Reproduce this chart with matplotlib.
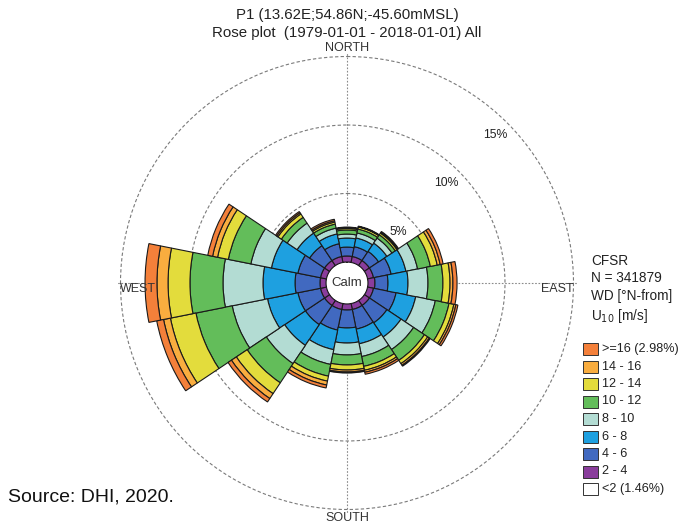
import numpy as np
import matplotlib
matplotlib.use("Agg")
import matplotlib.pyplot as plt
from matplotlib.patches import Rectangle

plt.rcParams['font.family'] = ['Liberation Sans', 'DejaVu Sans']

# wind direction sectors (deg, N-from), 16 sectors
directions = ["N", "NNE", "NE", "ENE", "E", "ESE", "SE", "SSE",
              "S", "SSW", "SW", "WSW", "W", "WNW", "NW", "NNW"]

# frequency (%) per speed class and sector
f_2_4 = [0.44, 0.44, 0.44, 0.44, 0.51, 0.44, 0.44, 0.44,
         0.44, 0.44, 0.44, 0.44, 0.44, 0.44, 0.44, 0.44]
f_4_6 = [0.65, 0.73, 0.80, 1.31, 0.95, 1.68, 1.53, 1.46,
         1.31, 1.53, 1.68, 1.68, 1.82, 1.68, 1.31, 0.95]
f_6_8 = [0.66, 0.65, 0.73, 1.10, 1.46, 1.46, 1.24, 1.09,
         1.10, 1.46, 1.82, 2.26, 2.34, 1.97, 1.10, 0.73]
f_8_10 = [0.29, 0.37, 0.44, 0.87, 1.46, 1.46, 1.10, 0.95,
          0.87, 1.10, 1.61, 2.63, 2.92, 1.53, 0.87, 0.43]
f_10_12 = [0.30, 0.29, 0.29, 0.95, 1.09, 1.02, 0.95, 0.73,
           0.73, 0.87, 1.68, 2.70, 2.41, 1.68, 0.51, 0.30]
f_12_14 = [0.11, 0.15, 0.15, 0.51, 0.52, 0.36, 0.29, 0.29,
           0.37, 0.37, 0.95, 1.90, 1.60, 0.80, 0.30, 0.15]
f_14_16 = [0.05, 0.03, 0.07, 0.22, 0.21, 0.15, 0.14, 0.15,
           0.14, 0.29, 0.43, 0.51, 0.81, 0.37, 0.11, 0.10]
f_16 = [0.05, 0.04, 0.07, 0.22, 0.30, 0.15, 0.08, 0.15,
        0.08, 0.22, 0.30, 0.51, 0.87, 0.36, 0.10, 0.11]

speed_bins = [f_2_4, f_4_6, f_6_8, f_8_10, f_10_12, f_12_14, f_14_16, f_16]
bin_colors = ["#8a3d9c", "#4169c0", "#1ea0e0", "#b3dcd3",
              "#63bd5a", "#e3dc3c", "#f9ad3f", "#f4803a"]

legend_labels = [">=16 (2.98%)", "14 - 16", "12 - 14", "10 - 12", "8 - 10",
                 "6 - 8", "4 - 6", "2 - 4", "<2 (1.46%)"]
legend_colors = bin_colors[::-1] + ["white"]

ring_levels = [5, 10, 15]
calm_offset = 1.533  # calm circle radius in % units

W, H = 692, 525
fig = plt.figure(figsize=(W / 100, H / 100), dpi=100)

cx, cy = 347, 242  # centre in pixels from lower left
rmax = 15.3
R = 230.6
ax = fig.add_axes([(cx - R) / W, (cy - R) / H, 2 * R / W, 2 * R / H],
                  projection='polar')
ax.set_theta_zero_location('N')
ax.set_theta_direction(-1)
ax.set_rorigin(-calm_offset)
ax.set_ylim(0, rmax)
ax.spines['polar'].set_visible(False)
ax.set_axisbelow(True)

theta = np.deg2rad(np.arange(len(directions)) * 22.5)
width = 2 * np.pi / len(directions)

bottom = np.zeros(len(directions))
for vals, col in zip(speed_bins, bin_colors):
    vals = np.array(vals)
    ax.bar(theta, vals, width=width, bottom=bottom, color=col,
           edgecolor="#1a1a1a", linewidth=0.8, zorder=3)
    bottom += vals

ax.set_rticks(ring_levels)
ax.set_yticklabels([])
ax.set_xticks(np.deg2rad([0, 90, 180, 270]))
ax.set_xticklabels([])
ax.yaxis.grid(True, color="#7a7a7a", linestyle=(0, (3, 2)), linewidth=0.8)
ax.xaxis.grid(True, color="#8a8a8a", linestyle=(0, (1.5, 1.5)), linewidth=0.8)

# ring labels along NE diagonal
for lev in ring_levels:
    ax.text(np.deg2rad(45), lev - 1.25, f"{lev}%", ha='center', va='center',
            fontsize=8.8, color="#222222", zorder=4)

lab_kw = dict(fontsize=9, color="#333333", clip_on=False, zorder=5)
ax.text(0, 15.15, "NORTH", ha='center', va='bottom', **lab_kw)
ax.text(np.pi, 15.15, "SOUTH", ha='center', va='top', **lab_kw)
ax.text(np.deg2rad(270), 15.05, "WEST", ha='left', va='top', **lab_kw)
ax.text(np.deg2rad(90), 15.0, "EAST", ha='right', va='top', **lab_kw)

ax.text(0.5, 0.5, "Calm", transform=ax.transAxes, ha='center', va='center',
        fontsize=9.5, color="#333333", zorder=5)

# titles
fig.text(cx / W, 1 - 15 / H, "P1 (13.62E;54.86N;-45.60mMSL)", ha='center',
         va='center', fontsize=10.8, color="#222222")
fig.text(cx / W, 1 - 33 / H, "Rose plot  (1979-01-01 - 2018-01-01) All",
         ha='center', va='center', fontsize=10.8, color="#222222")

# legend block
hdr_kw = dict(ha='left', va='center', fontsize=9.8, color="#222222")
fig.text(591 / W, 1 - 261 / H, "CFSR", **hdr_kw)
fig.text(591 / W, 1 - 278 / H, "N = 341879", **hdr_kw)
fig.text(591 / W, 1 - 296 / H, "WD [\u00b0N-from]", **hdr_kw)
fig.text(591 / W, 1 - 316 / H, "U$_{10}$ [m/s]", **hdr_kw)

y0, dy = 349, 17.5
for i, (lab, col) in enumerate(zip(legend_labels, legend_colors)):
    yc = y0 + i * dy
    fig.patches.append(Rectangle((583 / W, 1 - (yc + 6) / H), 15 / W, 12 / H,
                                 transform=fig.transFigure, facecolor=col,
                                 edgecolor="#333333", linewidth=0.7))
    fig.text(602 / W, 1 - yc / H, lab, ha='left', va='center', fontsize=9.1,
             color="#222222")

fig.text(8 / W, 1 - 497 / H, "Source: DHI, 2020.", ha='left', va='center',
         fontsize=14, color="#111111")

fig.savefig("out.png", dpi=100)
